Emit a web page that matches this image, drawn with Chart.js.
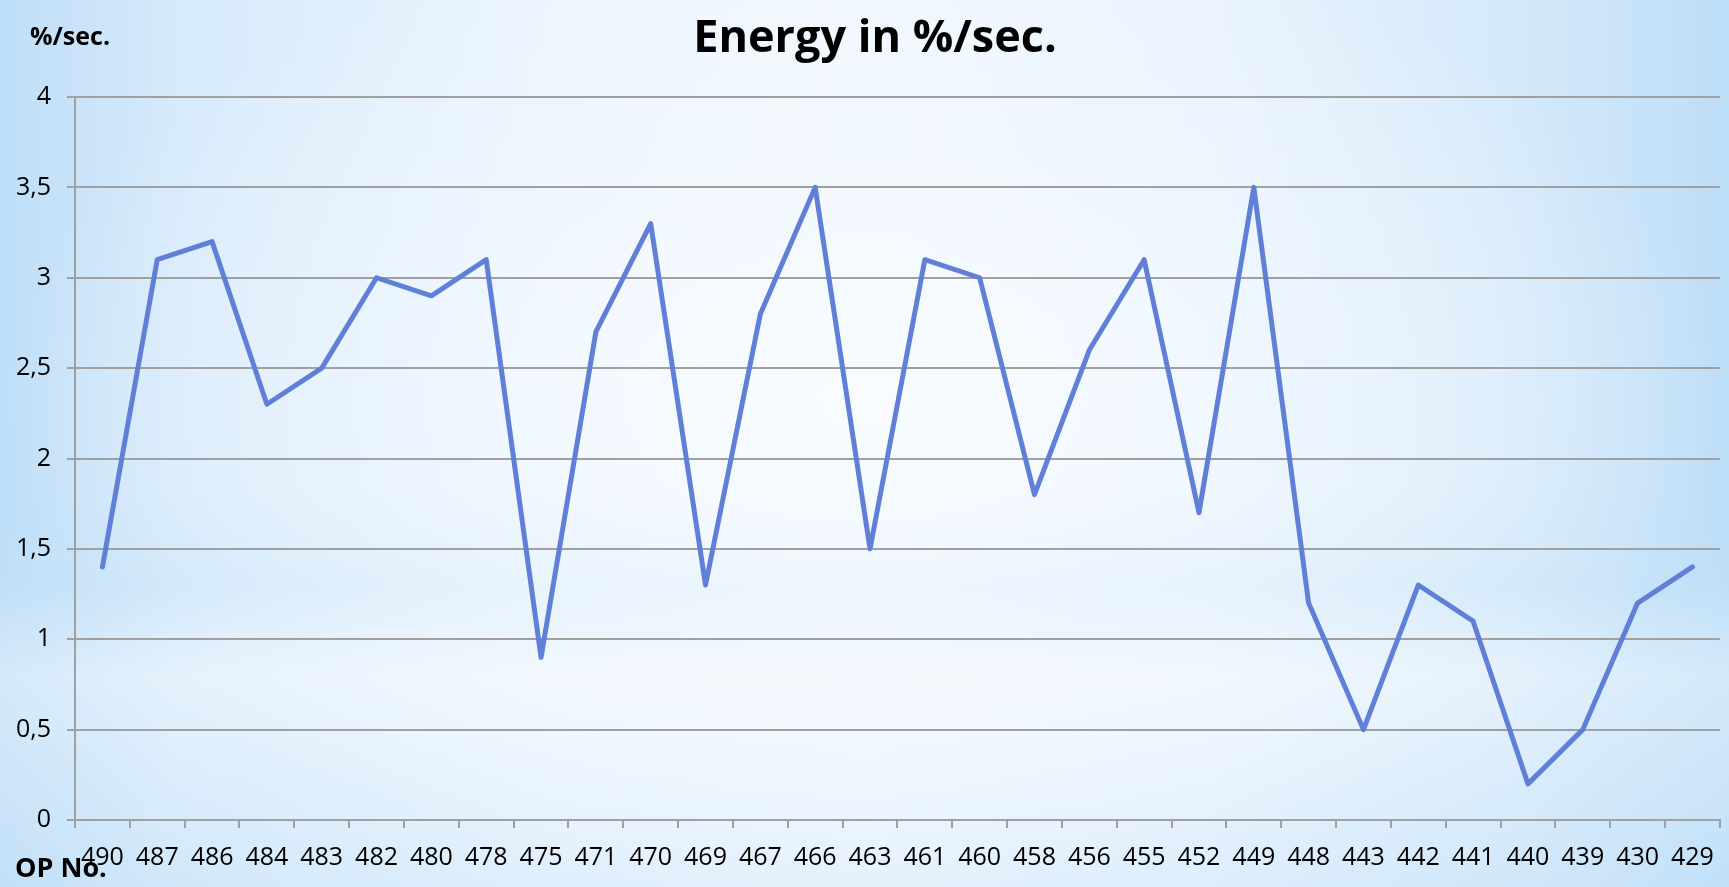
<!DOCTYPE html>
<html>
<head>
<meta charset="utf-8">
<script src="https://cdn.jsdelivr.net/npm/chart.js@4"></script>
<style>
  html, body { margin: 0; padding: 0; }
  body {
    width: 1729px; height: 887px; overflow: hidden; position: relative;
    background:
      radial-gradient(ellipse 50% 55% at 50% 45%, rgba(248,252,255,0.95) 0%, rgba(242,248,254,0.6) 50%, rgba(242,248,254,0) 100%),
      linear-gradient(to bottom, rgba(255,255,255,0) 0%, rgba(255,255,255,0) 55%, rgba(196,226,248,0.4) 66%, rgba(255,255,255,0.35) 76%, rgba(200,228,250,0.35) 100%),
      linear-gradient(to right, #bedef7 0%, #d6eafb 10%, #ecf5fd 32%, #f2f8fe 50%, #e9f3fd 70%, #d4e9fa 88%, #bddef7 100%);
    font-family: "Open Sans", "DejaVu Sans", sans-serif;
  }
  #wrap { position: absolute; left: 0; top: 0; width: 1729px; height: 887px; }
  .lbl { position: absolute; font-weight: bold; color: #000; font-family: "Open Sans", sans-serif; white-space: nowrap; }
  #title { left: 675px; width: 400px; text-align: center; top: 8px; font-size: 45px; line-height: 54px; }
</style>
</head>
<body>
<div id="wrap"><canvas id="chart" width="1729" height="887"></canvas></div>
<div class="lbl" id="title">Energy in %/sec.</div>
<div class="lbl" style="left:30px; top:18px; font-size:25px;">%/sec.</div>
<div class="lbl" style="left:15px; top:848px; font-size:27px;">OP No.</div>
<script>
// numery OP (oś X)
const opNumbers = ['490','487','486','484','483','482','480','478','475','471','470','469','467','466','463',
                   '461','460','458','456','455','452','449','448','443','442','441','440','439','430','429'];
// energia w %/sec.
const energy = [1.4, 3.1, 3.2, 2.3, 2.5, 3.0, 2.9, 3.1, 0.9, 2.7, 3.3, 1.3, 2.8, 3.5, 1.5,
                3.1, 3.0, 1.8, 2.6, 3.1, 1.7, 3.5, 1.2, 0.5, 1.3, 1.1, 0.2, 0.5, 1.2, 1.4];
const yTicks = [0, 0.5, 1, 1.5, 2, 2.5, 3, 3.5, 4];

const ctx = document.getElementById('chart').getContext('2d');

const myChart = new Chart(ctx, {
    type: 'line',
    data: {
        labels: opNumbers,
        datasets: [{
            label: 'Energy',
            data: energy,
            borderColor: '#6080d8',
            borderWidth: 5,
            pointRadius: 0,
            tension: 0,
            borderCapStyle: 'round',
            borderJoinStyle: 'round',
            fill: false
        }]
    },
    options: {
        responsive: false,
        animation: false,
        layout: { padding: { left: 0, right: 8, top: 97, bottom: 0 } },
        plugins: {
            legend: { display: false },
            tooltip: { enabled: false },
            title: { display: false }
        },
        scales: {
            x: {
                offset: true,
                grid: { offset: true, drawOnChartArea: false, color: '#a0a0a0', lineWidth: 2, tickLength: 8 },
                border: { color: '#a0a0a0', width: 2 },
                ticks: { color: '#000', font: { family: 'Open Sans', size: 25 }, padding: 15, maxRotation: 0, autoSkip: false },
                afterFit: (scale) => { scale.height = 67; }
            },
            y: {
                min: 0,
                max: 4,
                afterBuildTicks: (scale) => { scale.ticks = yTicks.map(v => ({ value: v })); },
                grid: { color: '#a0a0a0', lineWidth: 2, tickLength: 8 },
                border: { color: '#a0a0a0', width: 2 },
                ticks: {
                    color: '#000',
                    font: { family: 'Open Sans', size: 25 },
                    padding: 16,
                    callback: (v) => String(v).replace('.', ',')
                },
                afterFit: (scale) => { scale.width = 75; }
            }
        }
    }
});
</script>
</body>
</html>
